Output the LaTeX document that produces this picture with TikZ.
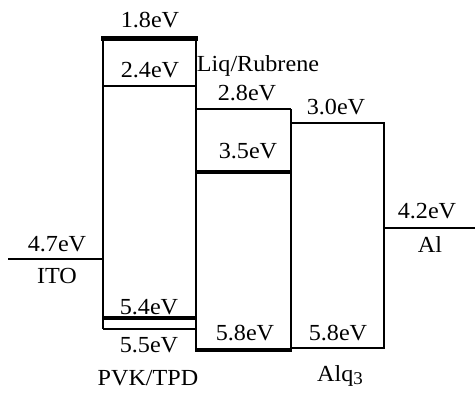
\documentclass[tikz,border=0pt]{standalone}
\usepackage{fontspec}
\setmainfont{Liberation Serif}[FakeStretch=1.05]
\begin{document}
\begin{tikzpicture}[x=1pt,y=-1pt,
  lvl/.style={line width=2pt},
  lvlthick/.style={line width=4.5pt},
  lbl/.style={inner sep=0pt,font=\fontsize{23}{25}\selectfont}]
\useasboundingbox (0,0) rectangle (475,392);
% PVK/TPD
\draw[lvl] (103,37) -- (103,329);
\draw[lvl] (196,37) -- (196,352);
\draw[lvlthick] (101,38.5) -- (198,38.5);
\draw[lvl] (103,86) -- (196,86);
\draw[lvlthick] (103,318) -- (196,318);
\draw[lvl] (103,329) -- (196,329);
% ITO
\draw[line width=1.5pt] (8,259) -- (103,259);
% Liq/Rubrene
\draw[line width=2.5pt] (196,109) -- (291,109);
\draw[lvl] (291,109) -- (291,350);
\draw[line width=4pt] (196,172) -- (291,172);
\draw[line width=4pt] (196,350) -- (292,350);
% Alq3
\draw[lvl] (291,123) -- (384,123) -- (384,348) -- (291,348);
% Al
\draw[lvl] (384,228) -- (475,228);
% labels
\node[lbl] (e18) at (150,20) {1.8eV};
\node[lbl] (e24) at (150,70) {2.4eV};
\node[lbl] (liq) at (258,66) {Liq/Rubrene};
\node[lbl] (e28) at (247,93) {2.8eV};
\node[lbl] (e30) at (336,107) {3.0eV};
\node[lbl] (e35) at (248,151) {3.5eV};
\node[lbl] (e42) at (427,211) {4.2eV};
\node[lbl] (al) at (430,245) {Al};
\node[lbl] (e47) at (57,244) {4.7eV};
\node[lbl] (ito) at (57,276) {ITO};
\node[lbl] (e54) at (149,307) {5.4eV};
\node[lbl] (e55) at (149,345) {5.5eV};
\node[lbl] (pvk) at (148,378) {PVK/TPD};
\node[lbl] (e58a) at (245,333) {5.8eV};
\node[lbl] (e58b) at (338,333) {5.8eV};
\node[lbl] (alq) at (340,376) {Alq\raisebox{-3pt}{\fontsize{18}{18}\selectfont 3}};
\end{tikzpicture}
\end{document}
